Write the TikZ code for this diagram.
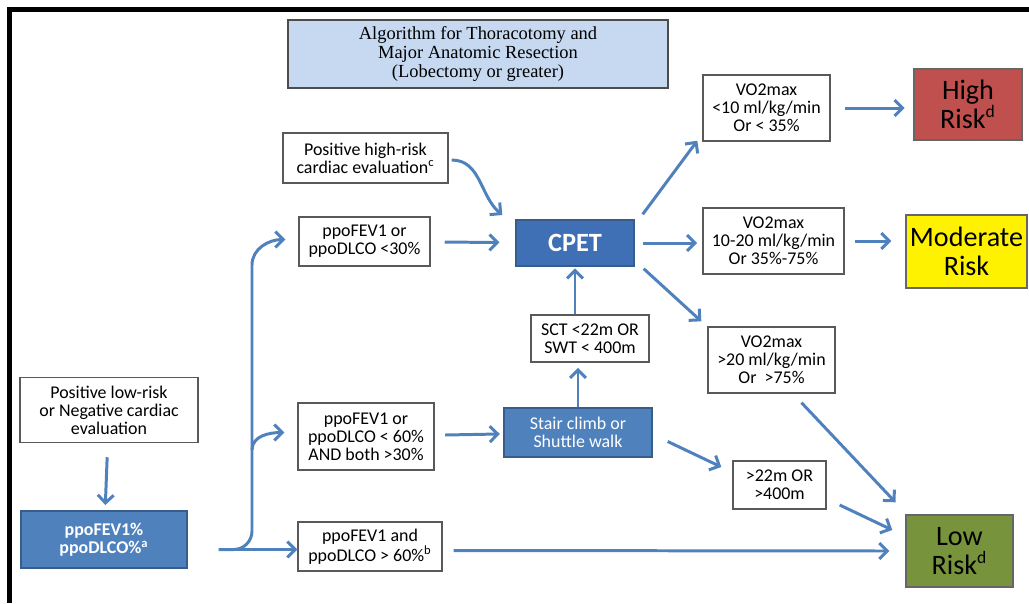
\documentclass[tikz,border=0pt]{standalone}
\usepackage{fontspec}
\setmainfont{Carlito}
\newfontfamily\titlefont{Liberation Serif}
\usepackage{tikz}
\usetikzlibrary{arrows.meta}

\definecolor{arrowblue}{HTML}{4F81BD}
\definecolor{boxblue}{HTML}{4F81BD}
\definecolor{cpetblue}{HTML}{3F70B6}
\definecolor{boxedge}{HTML}{385D8A}
\definecolor{titleblue}{HTML}{C6D9F1}
\definecolor{riskred}{HTML}{C0504D}
\definecolor{riskgreen}{HTML}{77933C}

\begin{document}
\begin{tikzpicture}[x=0.02cm,y=-0.02cm,
  box/.style={draw=black!65, line width=0.8pt, fill=white, align=center, inner sep=0pt,
    font=\fontsize{10.2}{10.2}\selectfont},
  bluebox/.style={box, draw=boxedge, fill=boxblue, text=white},
  riskbox/.style={draw=black!60, line width=0.8pt, align=center, inner sep=0pt,
    font=\fontsize{16}{16.5}\selectfont},
  arr/.style={draw=arrowblue, line width=1.7pt, -{Straight Barb[length=4.5pt,width=9pt]}},
  line/.style={draw=arrowblue, line width=1.7pt}]
\useasboundingbox (0,0) rectangle (1029,603);
\draw[line width=2.4pt] (9.5,603) -- (9.5,9.5) -- (1029,9.5);

\node[box, fill=titleblue, draw=black!70, minimum width=7.6cm, minimum height=1.36cm,
  font=\titlefont\fontsize{10.5}{10.8}\selectfont] (title) at (478,54)
  {Algorithm for Thoracotomy and\\Major Anatomic Resection\\(Lobectomy or greater)};

\node[box, minimum width=3.56cm, minimum height=1.3cm] (cardlow) at (109,410)
  {Positive low-risk\\or Negative cardiac\\evaluation};
\node[bluebox, font=\fontsize{10.2}{10.5}\selectfont\bfseries, minimum width=3.32cm, minimum height=1.14cm] (ppo) at (104,539.5)
  {ppoFEV1\%\\ppoDLCO\%\textsuperscript{a}};
\node[box, minimum width=3.3cm, minimum height=1cm] (cardhigh) at (365.5,158)
  {Positive high-risk\\cardiac evaluation\textsuperscript{c}};
\node[box, minimum width=2.62cm, minimum height=0.98cm] (p30) at (364.5,241.5)
  {ppoFEV1 or\\ppoDLCO <30\%};
\node[box, minimum width=2.72cm, minimum height=1.34cm] (p60) at (366,436.5)
  {ppoFEV1 or\\ppoDLCO < 60\%\\AND both >30\%};
\node[box, minimum width=2.88cm, minimum height=0.98cm] (p60b) at (370,546.5)
  {ppoFEV1 and\\ppoDLCO > 60\%\textsuperscript{b}};

\node[bluebox, fill=cpetblue, font=\fontsize{15}{15}\selectfont\bfseries, minimum width=2.36cm, minimum height=0.92cm] (cpet) at (575,243) {CPET};
\node[box, minimum width=2.36cm, minimum height=0.94cm] (sct) at (590,338.5)
  {SCT <22m OR\\SWT < 400m};
\node[bluebox, minimum width=2.96cm, minimum height=0.98cm] (stair) at (578,432.5)
  {Stair climb or\\Shuttle walk};
\node[box, minimum width=1.86cm, minimum height=0.96cm] (walk) at (779.5,485)
  {>22m OR\\>400m};

\node[box, minimum width=2.54cm, minimum height=1.32cm] (vhigh) at (766.5,108)
  {VO2max\\<10 ml/kg/min\\Or < 35\%};
\node[box, minimum width=2.82cm, minimum height=1.32cm] (vmod) at (773.5,241)
  {VO2max\\10-20 ml/kg/min\\Or 35\%-75\%};
\node[box, minimum width=2.54cm, minimum height=1.32cm] (vlow) at (771.5,360)
  {VO2max\\>20 ml/kg/min\\Or \ >75\%};

\node[riskbox, fill=riskred, minimum width=2.16cm, minimum height=1.42cm] (high) at (968,104.5)
  {High\\Risk\textsuperscript{\fontsize{10}{10}\selectfont d}};
\node[riskbox, fill=yellow, minimum width=2.42cm, minimum height=1.46cm] (mod) at (966.5,251.5)
  {Moderate\\Risk};
\node[riskbox, fill=riskgreen, minimum width=2.14cm, minimum height=1.44cm] (low) at (959.5,551)
  {Low\\Risk\textsuperscript{\fontsize{10}{10}\selectfont d}};

\coordinate (start) at ([shift={(31,10)}]ppo.east);
\coordinate (bend) at (252,531);
\coordinate (top) at (252,265);
\coordinate (mid) at (252,450);

\draw[arr, shorten <=8pt, shorten >=3pt] (cardlow) -- (ppo);
\draw[arr] (start) -- (start -| p60b.west);
\draw[arr] (start) -- ++(15,0) to[out=0,in=-90] (bend) -- (top)
  to[out=90,in=180] ([shift={(-13,-2)}]p30.west);
\draw[arr] (mid) to[out=90,in=180] ([shift={(-13,-4)}]p60.west);
\draw[arr] ([shift={(11,4)}]p60b.east) -- ([shift={(-16,0)}]low.west);

\draw[arr] ([shift={(3,2)}]cardhigh.east) to[out=0,in=140] ([shift={(-13,-28)}]cpet.west);
\draw[arr, shorten <=8pt, shorten >=9pt] (p30) -- (cpet);
\draw[arr, shorten <=6pt, shorten >=2pt] (p60) -- (stair);
\draw[arr, shorten >=3pt] (stair.north) -- (stair.north |- sct.south);
\draw[arr, shorten >=1pt] (cpet.south |- sct.north) -- (cpet.south);
\draw[arr] ([shift={(15,9)}]stair.east) -- ([shift={(-11,-18)}]walk.west);
\draw[arr] ([shift={(13,20)}]walk.east) -- ([shift={(-13,-21)}]low.west);
\draw[arr] ([shift={(30,9)}]vlow.south) -- ([shift={(-64,-12)}]low.north);

\draw[arr] ([shift={(8,-5)}]cpet.north east) -- ([shift={(-5,-1)}]vhigh.south west);
\draw[arr, shorten <=5pt, shorten >=3pt] (cpet.east) -- (cpet.east -| vmod.west);
\draw[arr] ([shift={(9,2)}]cpet.south east) -- ([shift={(-6,-5)}]vlow.north west);
\draw[arr, shorten <=8pt, shorten >=5pt] (vhigh.east) -- (vhigh.east -| high.west);
\draw[arr, shorten <=6pt, shorten >=8pt] (vmod.east) -- (vmod.east -| mod.west);
\end{tikzpicture}
\end{document}
